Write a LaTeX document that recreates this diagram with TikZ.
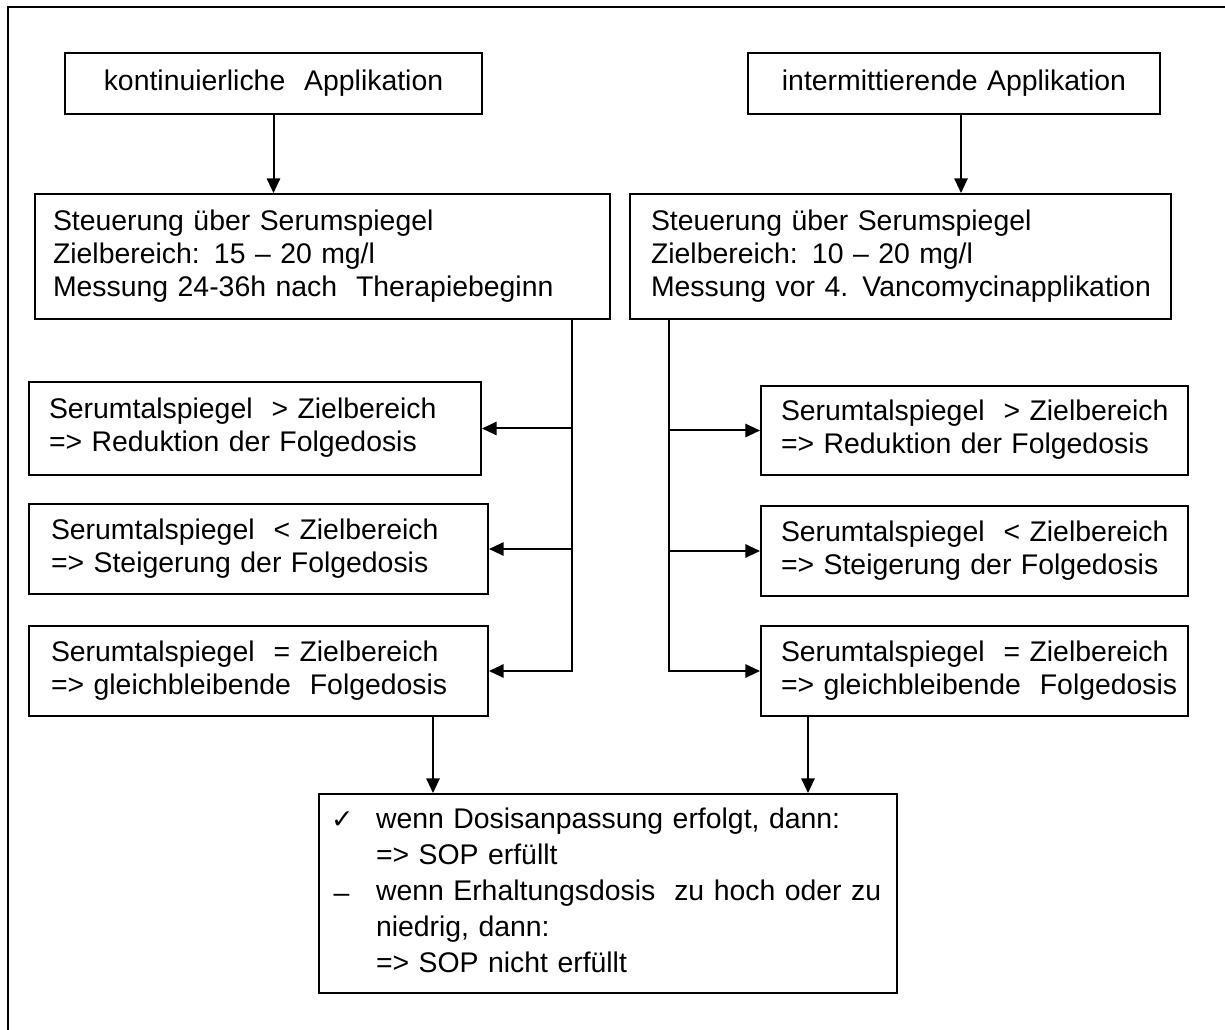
\documentclass[tikz,border=0pt]{standalone}
\usepackage{fontspec}
\setmainfont{Liberation Sans}
\newfontfamily\dej{DejaVu Sans}
\usetikzlibrary{arrows.meta}
\newcommand\boxlines[1]{\begin{tabular}{@{}l@{}}#1\end{tabular}}
\begin{document}
\begin{tikzpicture}[x=0.75pt,y=-0.75pt,
  box/.style={draw, line width=1.5pt, anchor=north west, inner ysep=0pt,
    font=\fontsize{21.3}{24.75}\selectfont},
  lbox/.style={box, align=left},
  cbox/.style={box, align=center, inner xsep=0pt},
  arr/.style={line width=1.5pt, -{Triangle[length=11pt,width=10pt]}},
  frame/.style={line width=2pt}]
\useasboundingbox (0,0) rectangle (1225,1030);
\draw[frame] (8,1035) -- (8,7) -- (1230,7);

\node[cbox, minimum width=312.75pt, minimum height=45.75pt, text width=312.75pt] (A) at (64,52) {kontinuierliche~ Applikation};
\node[cbox, minimum width=309pt, minimum height=45.75pt, text width=309pt] (B) at (747,52) {intermittierende Applikation};

\node[lbox, minimum width=431.25pt, minimum height=93.75pt, inner xsep=13.5pt, text width=404.25pt] (C) at (34,193)
 {\boxlines{Steuerung über Serumspiegel\\Zielbereich: 15 – 20 mg/l\\Messung 24-36h nach~ Therapiebeginn}};
\node[lbox, minimum width=405.75pt, minimum height=93.75pt, inner xsep=15.75pt, text width=374.25pt] (D) at (629,193)
 {\boxlines{Steuerung über Serumspiegel\\Zielbereich: 10 – 20 mg/l\\Messung vor 4. Vancomycinapplikation}};

\node[lbox, minimum width=339pt, minimum height=69.75pt, inner xsep=15pt, text width=309pt] (E1) at (28,381)
 {\boxlines{Serumtalspiegel~ > Zielbereich\\=> Reduktion der Folgedosis}};
\node[lbox, minimum width=344.25pt, minimum height=67.5pt, inner xsep=16.5pt, text width=311.25pt] (E2) at (28,503)
 {\boxlines{Serumtalspiegel~ < Zielbereich\\=> Steigerung der Folgedosis}};
\node[lbox, minimum width=344.25pt, minimum height=67.5pt, inner xsep=16.5pt, text width=311.25pt] (E3) at (28,625)
 {\boxlines{Serumtalspiegel~ = Zielbereich\\=> gleichbleibende~ Folgedosis}};

\node[lbox, minimum width=320.25pt, minimum height=66.75pt, inner xsep=15pt, text width=290.25pt] (F1) at (760,385)
 {\boxlines{Serumtalspiegel~ > Zielbereich\\=> Reduktion der Folgedosis}};
\node[lbox, minimum width=320.25pt, minimum height=67.5pt, inner xsep=15pt, text width=290.25pt] (F2) at (760,505)
 {\boxlines{Serumtalspiegel~ < Zielbereich\\=> Steigerung der Folgedosis}};
\node[lbox, minimum width=320.25pt, minimum height=67.5pt, inner xsep=15pt, text width=290.25pt] (F3) at (760,625)
 {\boxlines{Serumtalspiegel~ = Zielbereich\\=> gleichbleibende~ Folgedosis}};

\node[lbox, minimum width=433.5pt, minimum height=149.25pt, inner xsep=9pt, text width=415.5pt,
  font=\fontsize{21.3}{27}\selectfont] (G) at (318,793)
 {\raisebox{-2pt}{\boxlines{\makebox[33.75pt][l]{\dej\fontsize{20}{27}\selectfont ✓}wenn Dosisanpassung erfolgt, dann:\\
  \hspace*{33.75pt}=> SOP erfüllt\\
  \makebox[33.75pt][l]{\hspace*{2pt}\raisebox{-1pt}{–}}wenn Erhaltungsdosis~ zu hoch oder zu\\
  \hspace*{33.75pt}niedrig, dann:\\
  \hspace*{33.75pt}=> SOP nicht erfüllt}}};

\coordinate (bx) at (961,0);
\coordinate (lb) at (572,0);
\coordinate (rb) at (669,0);
\coordinate (l3) at (433,0);
\coordinate (r3) at (808,0);

\draw[arr] (A.south) -- (A.south |- C.north);
\draw[arr] (B.south -| bx) -- (D.north -| bx);

\draw[arr] (C.south -| lb) |- (E3.east);
\draw[arr] (E1.east -| lb) -- (E1.east);
\draw[arr] (E2.east -| lb) -- (E2.east);

\draw[arr] (D.south -| rb) |- (F3.west);
\draw[arr] (F1.west -| rb) -- (F1.west);
\draw[arr] (F2.west -| rb) -- (F2.west);

\draw[arr] (E3.south -| l3) -- (G.north -| l3);
\draw[arr] (F3.south -| r3) -- (G.north -| r3);
\end{tikzpicture}
\end{document}
